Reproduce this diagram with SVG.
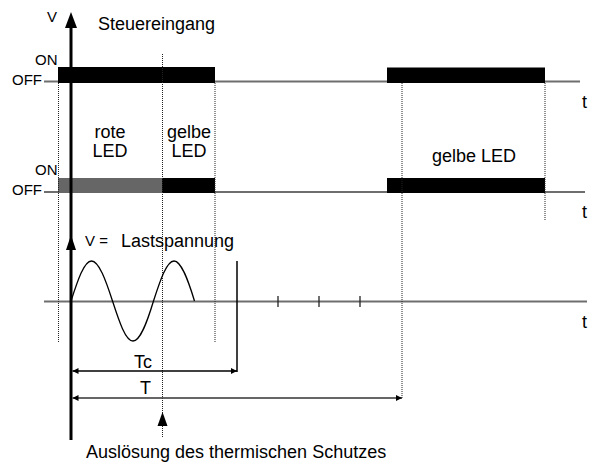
<svg xmlns="http://www.w3.org/2000/svg" width="602" height="463" viewBox="0 0 602 463">
<defs>
<style>
text{font-family:"Liberation Sans",Arial,sans-serif;fill:#000}
.lbl{font-size:18px}
.st{font-size:15px}
.base{stroke:#6e6e6e;stroke-width:2;fill:none}
.dot{stroke:#222;stroke-width:1;stroke-dasharray:1 1;fill:none}
.dim{stroke:#000;stroke-width:1.3;fill:none}
</style>
<marker id="ah" viewBox="0 0 10 10" refX="10" refY="5" markerWidth="7" markerHeight="6" markerUnits="userSpaceOnUse" orient="auto-start-reverse">
<path d="M0,0 L10,5 L0,10 z" fill="#000"/>
</marker>
</defs>
<rect width="602" height="463" fill="#fff"/>

<g id="baselines">
<line class="base" x1="44" y1="81.5" x2="580" y2="81.5"/>
<line class="base" x1="44" y1="192" x2="585" y2="192"/>
<line class="base" x1="44" y1="301.5" x2="587" y2="301.5"/>
</g>

<g id="steuereingang">
<rect x="58" y="67" width="157" height="16" fill="#000"/>
<rect x="387" y="67.5" width="158" height="15.5" fill="#000"/>
<text class="lbl" x="98" y="30">Steuereingang</text>
<text class="st" x="35" y="65">ON</text>
<text class="st" x="12" y="85">OFF</text>
<text class="lbl" x="582" y="108">t</text>
</g>

<g id="led">
<rect x="58" y="178" width="104" height="15" fill="#666"/>
<rect x="162" y="178" width="53" height="15" fill="#000"/>
<rect x="387" y="178" width="158" height="15" fill="#000"/>
<text class="st" x="35" y="175">ON</text>
<text class="st" x="12" y="195">OFF</text>
<text class="lbl" x="110" y="138" text-anchor="middle">rote</text>
<text class="lbl" x="110" y="157" text-anchor="middle">LED</text>
<text class="lbl" x="189" y="138" text-anchor="middle">gelbe</text>
<text class="lbl" x="189" y="157" text-anchor="middle">LED</text>
<text class="lbl" x="474" y="162" text-anchor="middle">gelbe LED</text>
<text class="lbl" x="582" y="218">t</text>
</g>

<g id="dotted">
<line class="dot" x1="58.5" y1="83" x2="58.5" y2="343"/>
<line class="dot" x1="162.5" y1="54" x2="162.5" y2="438"/>
<line class="dot" x1="215" y1="83" x2="215" y2="343"/>
<line class="dot" x1="402" y1="83" x2="402" y2="398"/>
<line class="dot" x1="545" y1="83" x2="545" y2="220"/>
</g>

<g id="lastspannung">
<path d="M71,301 C77.69,280.51 84.08,261 91.5,261 C98.92,261 105.81,280.51 112.5,301 C119.19,321.49 125.58,341 133,341 C140.42,341 147.31,321.49 153.5,301 C160.19,280.51 166.58,261 174,261 C181.42,261 188.31,280.51 194.5,301" fill="none" stroke="#000" stroke-width="1.3"/>
<line x1="237" y1="261" x2="237" y2="372" stroke="#000" stroke-width="1.5"/>
<line x1="278" y1="296" x2="278" y2="307" stroke="#222" stroke-width="1.3"/>
<line x1="319" y1="296" x2="319" y2="307" stroke="#222" stroke-width="1.3"/>
<line x1="360" y1="296" x2="360" y2="307" stroke="#222" stroke-width="1.3"/>
<path d="M71,235 L66,250 L76,250 z" fill="#000"/>
<text class="st" x="85" y="246">V =</text>
<text class="lbl" x="121" y="247">Lastspannung</text>
<text class="lbl" x="582" y="328">t</text>
</g>

<g id="axis">
<line x1="71" y1="26" x2="71" y2="440" stroke="#000" stroke-width="3"/>
<path d="M71,12 L65,28 L77,28 z" fill="#000"/>
<text class="st" x="47" y="22">V</text>
</g>

<g id="connectors">
<line class="dim" x1="72.5" y1="371" x2="237" y2="371" marker-start="url(#ah)" marker-end="url(#ah)"/>
<line x1="72.5" y1="398" x2="402" y2="398" stroke="#333" stroke-width="1.5" marker-start="url(#ah)" marker-end="url(#ah)"/>
<path d="M162.5,412 L157.5,426 L167.5,426 z" fill="#000"/>
</g>

<g id="labels">
<text class="lbl" x="134" y="368">Tc</text>
<text class="lbl" x="140" y="394">T</text>
<text class="lbl" x="86" y="458">Auslösung des thermischen Schutzes</text>
</g>
</svg>
